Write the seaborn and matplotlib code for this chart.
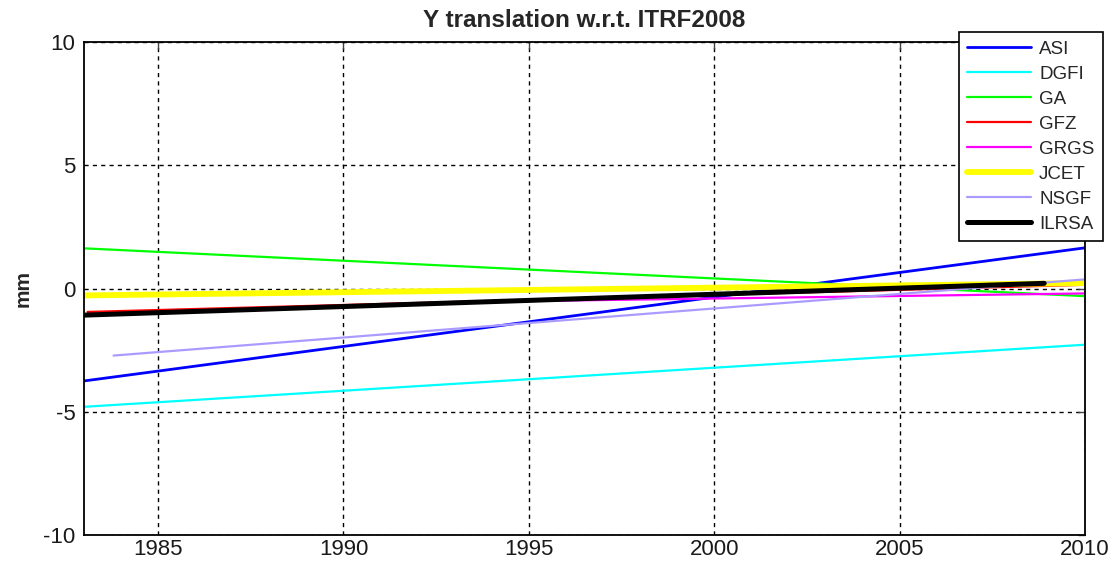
import matplotlib
matplotlib.use("Agg")
import matplotlib.pyplot as plt
import seaborn as sns
import pandas as pd

# ---- data ----
series = ["ASI", "DGFI", "GA", "GFZ", "GRGS", "JCET", "NSGF", "ILRSA"]
start_year = [1983.0, 1983.0, 1983.0, 1983.1, 1993.0, 1983.0, 1983.8, 1983.0]
end_year = [2010.0, 2010.0, 2010.0, 2010.0, 2010.0, 2010.0, 2010.0, 2008.9]
start_val = [-3.75, -4.80, 1.63, -0.95, -0.55, -0.28, -2.72, -1.08]
end_val = [1.65, -2.28, -0.31, 0.15, -0.20, 0.22, 0.37, 0.21]
colors = ["#0000ff", "#00ffff", "#00ff00", "#ff0000", "#ff00ff",
          "#ffff00", "#aa9cff", "#000000"]
widths = [2.0, 1.6, 1.6, 1.6, 1.6, 4.2, 1.6, 3.6]
xticks = [1985, 1990, 1995, 2000, 2005, 2010]
yticks = [-10, -5, 0, 5, 10]

sns.set_style("white")
plt.rcParams["font.family"] = ["Liberation Sans", "DejaVu Sans"]
plt.rcParams["axes.unicode_minus"] = False

rows = []
for s, x0, x1, y0, y1 in zip(series, start_year, end_year, start_val, end_val):
    rows.append({"series": s, "year": x0, "mm": y0})
    rows.append({"series": s, "year": x1, "mm": y1})
df = pd.DataFrame(rows)

fig = plt.figure(figsize=(11.19, 5.63), dpi=100)
ax = fig.add_axes([0.075, 0.0497, 0.8946, 0.8757])

for s, c, w in zip(series, colors, widths):
    sns.lineplot(data=df[df.series == s], x="year", y="mm", color=c,
                 linewidth=w, ax=ax, label=s, estimator=None, sort=False)

ax.set_xlim(1983, 2010)
ax.set_ylim(-10, 10)
ax.set_xticks(xticks)
ax.set_yticks(yticks)
ax.grid(True, color="black", linestyle=(0, (3, 3)), linewidth=1)
ax.set_axisbelow(True)
for sp in ax.spines.values():
    sp.set_color("black")
    sp.set_linewidth(1.3)
ax.tick_params(axis="both", direction="in", length=5, width=1, color="#444444",
               labelsize=16, pad=6, labelcolor="#1a1a1a",
               top=True, right=True)
ax.tick_params(axis="x", pad=3)
ax.set_xlabel("")
ax.set_ylabel("mm", fontsize=15, fontweight="bold", labelpad=8)
ax.set_title("Y translation w.r.t. ITRF2008", fontsize=17.5, fontweight="bold", pad=11)

leg = ax.legend(loc="upper right", bbox_to_anchor=(1.018, 1.0203), borderaxespad=0,
                fontsize=13.5, frameon=True, fancybox=False, edgecolor="black",
                framealpha=1, handlelength=3.4, labelspacing=0.42, borderpad=0.45,
                handletextpad=0.45)
leg.get_frame().set_linewidth(1.2)

fig.savefig("out.png", dpi=100)
